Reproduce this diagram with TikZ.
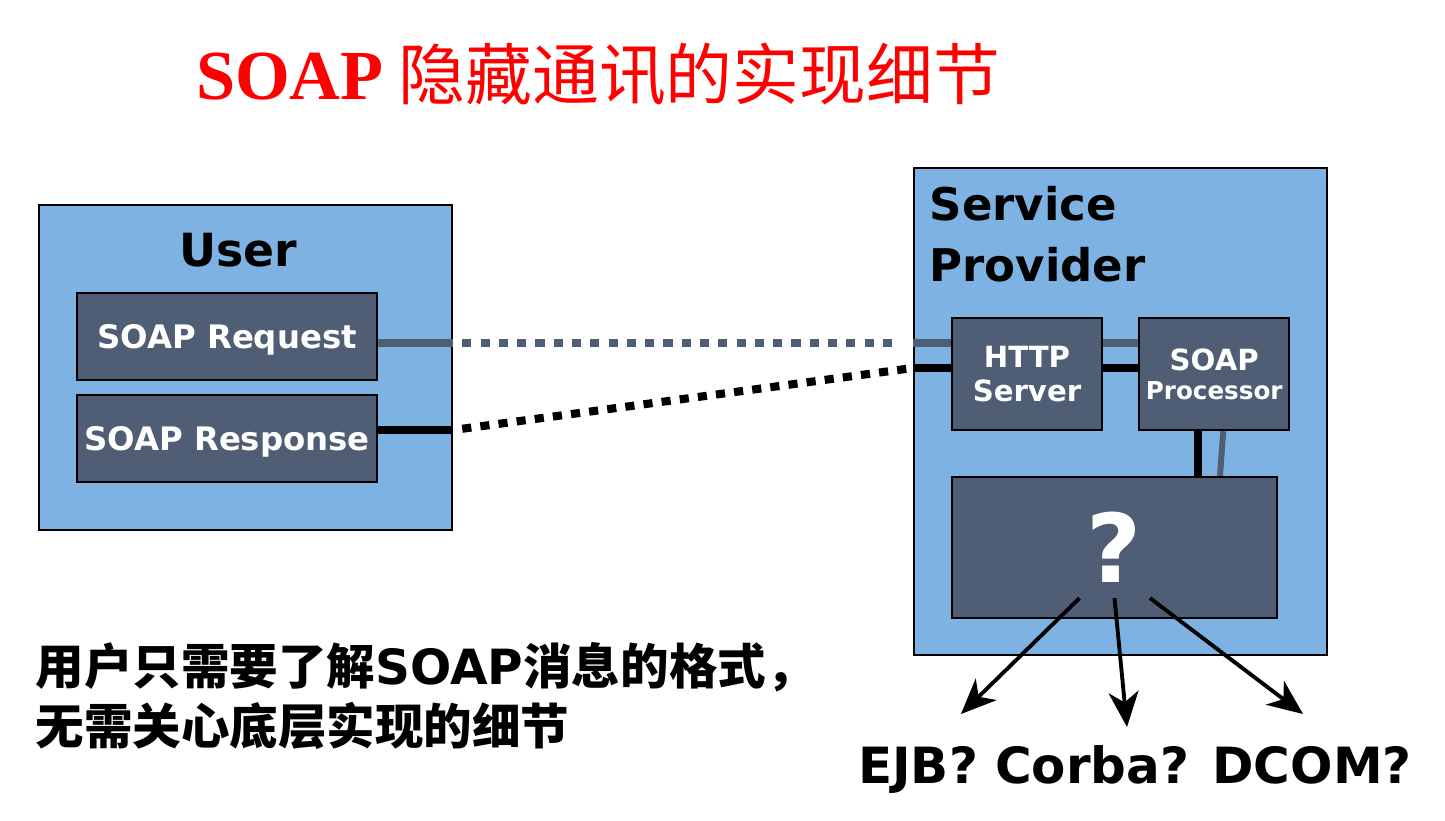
\documentclass[tikz,border=0pt]{standalone}
\usepackage{fontspec}
\setmainfont{DejaVu Sans}
\newfontfamily\cjk{Noto Sans CJK SC}
\newfontfamily\titleserif{Liberation Serif}
\usetikzlibrary{arrows.meta,calc,positioning}
\definecolor{hostblue}{RGB}{126,178,227}
\definecolor{partslate}{RGB}{79,94,117}
\tikzset{
    host/.style={draw,line width=0.6pt,fill=hostblue,inner sep=0pt},
    part/.style={draw,line width=0.6pt,fill=partslate,text=white,inner sep=0pt,align=center},
    wire/.style={line width=2.3pt},
    reqwire/.style={wire,draw=partslate},
    respwire/.style={wire,draw=black},
    dotwire/.style={dash pattern=on 2.6pt off 2.6pt,dash phase=2.6pt},
    pick/.style={line width=1.1pt,-{Stealth[length=10pt,width=8.5pt,inset=3pt]}}
}

\begin{document}
\begin{tikzpicture}[x=0.01cm,y=-0.01cm]
    \useasboundingbox (0,0) rectangle (1445,821);

    \node (title) [anchor=base,text=red] at (598,100)
        {{\titleserif\bfseries\fontsize{20}{24}\selectfont SOAP}\hspace{0.15cm}{\cjk\fontsize{19}{24}\selectfont 隐藏通讯的实现细节}};

    \node[host,minimum width=4.13cm,minimum height=3.25cm] (user) at (245.5,367.5) {};
    \node (userlabel) [anchor=base,font=\bfseries\fontsize{13}{16}\selectfont] at (238,266) {User};
    \node[part,minimum width=3cm,minimum height=0.87cm,text depth=0pt,font=\bfseries\fontsize{9.2}{11}\selectfont] (req) at (227,336.5) {SOAP Request};
    \node[part,minimum width=3cm,minimum height=0.87cm,text depth=0pt,font=\bfseries\fontsize{9.2}{11}\selectfont] (resp) [below=0.13cm of req] {SOAP Response};

    \node[host,minimum width=4.13cm,minimum height=4.87cm] (sp) at (1120.5,411.5) {};
    \node (splabel) [anchor=west,align=left,inner sep=0pt,font=\bfseries\fontsize{12.8}{17.4}\selectfont] at (929,234) {Service\\Provider};
    \node[part,minimum width=1.5cm,minimum height=1.12cm,font=\bfseries\fontsize{8.3}{9.7}\selectfont] (http) at (1027,374) {HTTP\\Server};
    \node[part,minimum width=1.5cm,minimum height=1.12cm,font=\bfseries\fontsize{8.3}{8.3}\selectfont] (proc) [right=0.35cm of http] {SOAP\\{\fontsize{7}{8.3}\selectfont Processor}};
    \node[part,minimum width=3.25cm,minimum height=1.41cm,font=\bfseries\fontsize{27}{27}\selectfont] (q) at (1114.5,547.5) {?};

    \coordinate (reqlvl) at (0,343);
    \coordinate (resplvl) at (0,430);
    \coordinate (inlvl) at (0,368);

    \draw[reqwire] (req.east |- reqlvl) -- (user.east |- reqlvl);
    \draw[reqwire,dotwire] (user.east |- reqlvl) -- ($(sp.west |- reqlvl)+(-18,0)$);
    \draw[reqwire] (sp.west |- reqlvl) -- (http.west |- reqlvl);
    \draw[reqwire] (http.east |- reqlvl) -- (proc.west |- reqlvl);

    \draw[respwire] (resp.east |- resplvl) -- (user.east |- resplvl);
    \draw[respwire,dotwire] (user.east |- resplvl) -- (sp.west |- inlvl);
    \draw[respwire] (sp.west |- inlvl) -- (http.west |- inlvl);
    \draw[respwire] (http.east |- inlvl) -- (proc.west |- inlvl);

    \draw[respwire] ($(proc.south)+(-16,0)$) coordinate (blk) -- (blk |- q.north);
    \draw[reqwire,line width=1.7pt] ($(proc.south)+(9,0)$) -- ($(q.north)+(105.5,0)$);

    \node (impl) [anchor=base,font=\bfseries\fontsize{14.2}{17}\selectfont] at (1135,783) {EJB? Corba? DCOM?};
    \coordinate (ejbtip) at (961,714);
    \coordinate (corbatip) at (1127,727);
    \coordinate (dcomtip) at (1303,714);
    \draw[pick] ($(q.south)+(-35,-21)$) -- (ejbtip);
    \draw[pick] ($(q.south)+(0,-21)$) -- (corbatip);
    \draw[pick] ($(q.south)+(35.5,-21)$) -- (dcomtip);

    \node (note) [anchor=west,align=left,inner sep=0pt,font=\cjk\bfseries\fontsize{13.8}{17}\selectfont] at (35,696)
        {用户只需要了解{\rmfamily SOAP}消息的格式，\\无需关心底层实现的细节};
\end{tikzpicture}
\end{document}
